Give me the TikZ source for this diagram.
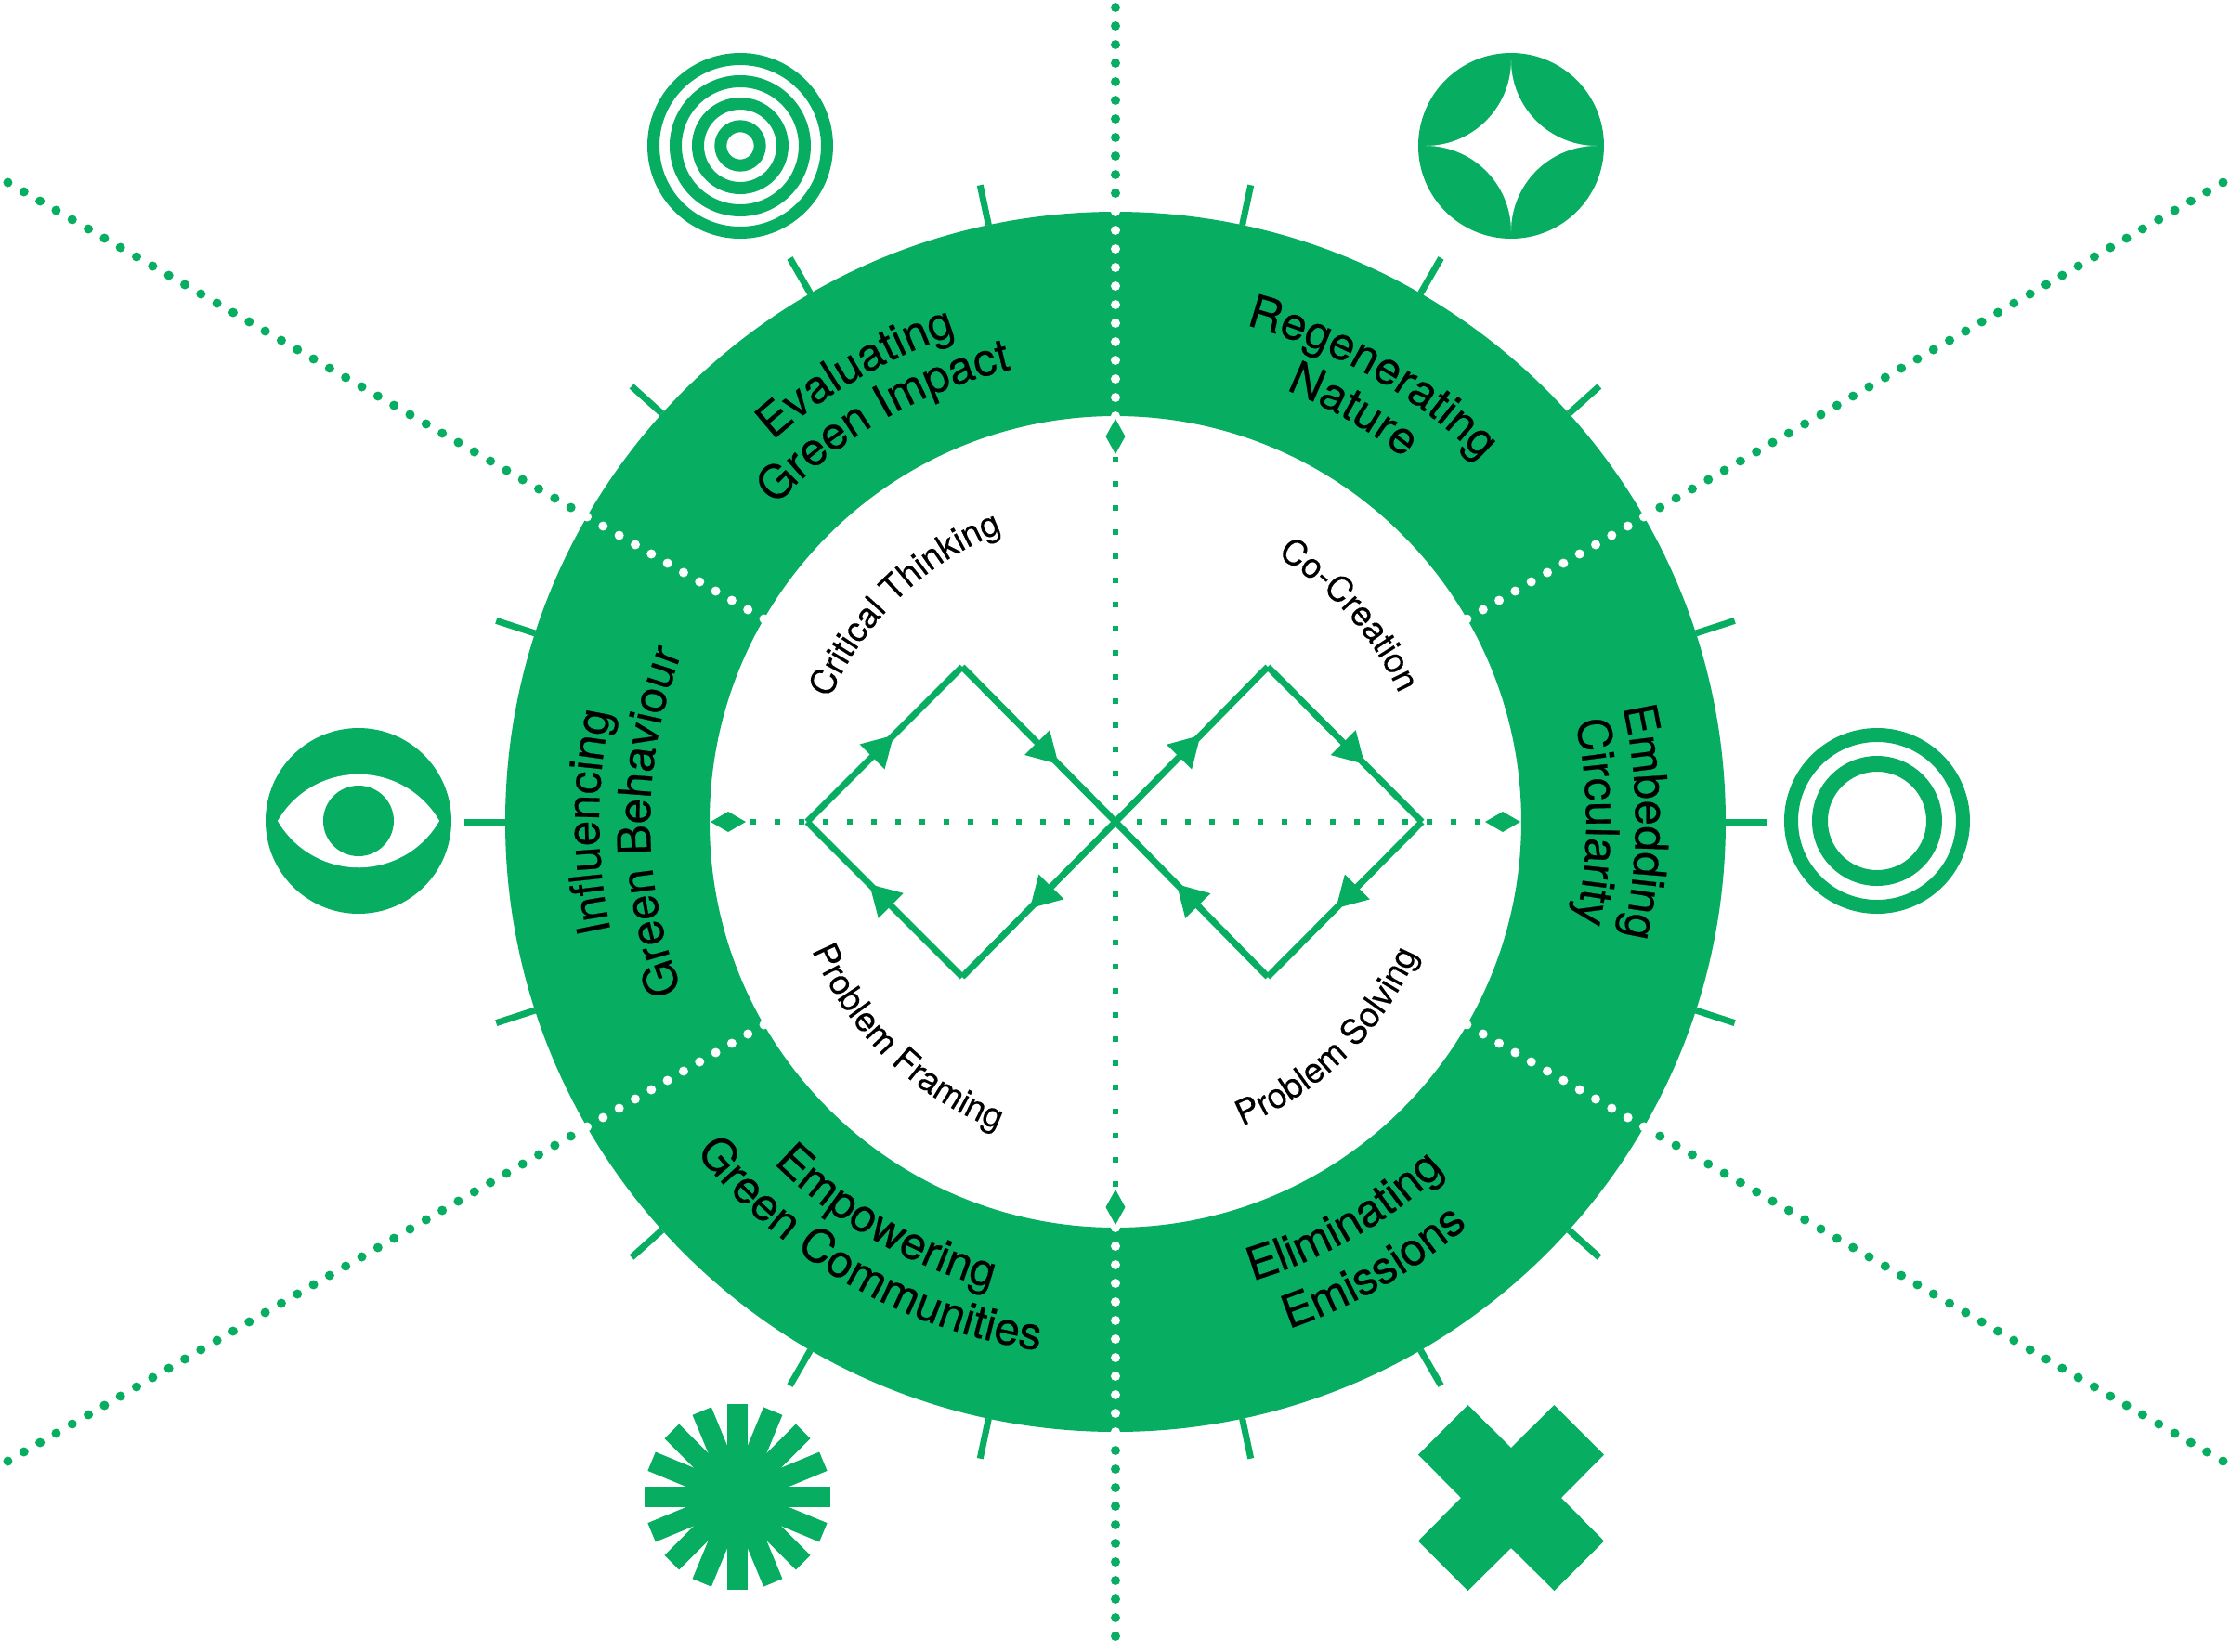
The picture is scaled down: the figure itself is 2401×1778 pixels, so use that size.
\documentclass[tikz,border=0pt]{standalone}
\usepackage{fontspec}
\setmainfont{TeX Gyre Heros}
\newfontfamily\bandface[FakeBold=0.45]{TeX Gyre Heros}
\newfontfamily\loopface[FakeBold=0.25]{TeX Gyre Heros}
\usetikzlibrary{arrows.meta,decorations.text,decorations.markings}
\definecolor{leaf}{RGB}{7,174,98}
\newcommand{\bandfont}{\bandface\fontsize{14}{16}\selectfont}
\newcommand{\loopfont}{\loopface\fontsize{10.6}{13}\selectfont}
\tikzset{
  band/.style={fill=leaf},
  tick/.style={draw=leaf, line width=0.7mm},
  greendots/.style={draw=leaf, line width=1mm, line cap=round, dash pattern=on 0pt off 2mm},
  whitedots/.style={draw=white, line width=1mm, line cap=round, dash pattern=on 0pt off 2mm},
  squaredots/.style={draw=leaf, line width=0.65mm, dash pattern=on 0.65mm off 1.95mm, dash phase=0.325mm},
  loopleg/.style={draw=leaf, line width=0.7mm, postaction={decorate},
    decoration={markings, mark=at position #1 with {\arrow[leaf]{Triangle[length=3.3mm,width=3.6mm]}}}},
  bandtext/.style={decorate, decoration={text along path, text align=center, text={|\bandfont|#1}}},
  looptext/.style={decorate, decoration={text along path, text align=center, text={|\loopfont|#1}}}
}
% text on a circle: radius, middle angle, half span, words
\newcommand{\overarc}[5][bandtext]{\path[#1={#5}] (#3+#4:#2) arc[start angle=#3+#4, end angle=#3-#4, radius=#2];}
\newcommand{\underarc}[5][bandtext]{\path[#1={#5}] (#3-#4:#2) arc[start angle=#3-#4, end angle=#3+#4, radius=#2];}
\begin{document}
\begin{tikzpicture}[x=0.1mm,y=0.1mm]
\useasboundingbox (-1201,-893) rectangle (1200,885);
\begin{scope}
\clip (-1201,-893) rectangle (1200,885);

% ring
\fill[band, even odd rule] (0,0) circle[radius=657] (0,0) circle[radius=437];

\foreach \a in {-78,-60,-42,-18,0,18,42,60,78,102,120,138,162,180,198,222,240,258}
  \draw[tick] (\a:657) -- (\a:701);

% spokes
\foreach \a/\far in {30/1390,90/890,150/1390,210/1390,270/885,330/1390} {
  \coordinate (in\a) at (\a:437);
  \coordinate (rim\a) at (\a:657);
  \coordinate (out\a) at (\a:677);
  \coordinate (end\a) at (\a:\far);
  \draw[whitedots] (in\a) -- (rim\a);
  \draw[greendots] (out\a) -- (end\a);
}

% axes
\coordinate (hub) at (0,0);
\foreach \a/\nm in {0/east,90/north,180/west,270/south} {
  \coordinate (\nm) at (\a:394);
  \draw[squaredots] (hub) -- (\nm);
}
\fill[leaf] (0,396) -- (10.5,415) -- (0,434) -- (-10.5,415) -- cycle;
\fill[leaf] (0,-396) -- (10.5,-415) -- (0,-434) -- (-10.5,-415) -- cycle;
\fill[leaf] (-398,0) -- (-417,11) -- (-436,0) -- (-417,-11) -- cycle;
\fill[leaf] (398,0) -- (417,11) -- (436,0) -- (417,-11) -- cycle;

% the two loops
\coordinate (la) at (-332,0);
\coordinate (lt) at (-165,167);
\coordinate (lb) at (-165,-167);
\coordinate (ra) at (330,0);
\coordinate (rt) at (164,167);
\coordinate (rb) at (164,-167);
\draw[loopleg=0.56] (la) -- (lt);
\draw[loopleg=0.63] (lt) -- (hub);
\draw[loopleg=0.56] (hub) -- (lb);
\draw[loopleg=0.6] (lb) -- (la);
\draw[loopleg=0.56] (hub) -- (rt);
\draw[loopleg=0.63] (rt) -- (ra);
\draw[loopleg=0.56] (ra) -- (rb);
\draw[loopleg=0.6] (rb) -- (hub);

% band words
\overarc{552}{120}{40}{Evaluating}
\overarc{500}{120}{40}{Green Impact}
\overarc{553}{60}{40}{Regenerating}
\overarc{500}{60}{40}{Nature}
\overarc{560}{0}{40}{Embedding}
\overarc{507}{0}{40}{Circularity}
\overarc{556}{180}{40}{Influencing}
\overarc{501}{180}{40}{Green Behaviour}
\underarc{516}{300}{40}{Eliminating}
\underarc{577}{300}{40}{Emissions}
\underarc{520}{240}{40}{Empowering}
\underarc{575}{240}{40}{Green Communities}

% loop words
\overarc[looptext]{335}{134}{60}{Critical Thinking}
\overarc[looptext]{335}{41.5}{60}{Co-Creation}
\underarc[looptext]{355}{226}{60}{Problem Framing}
\underarc[looptext]{355}{-45.5}{60}{Problem Solving}

% target
\begin{scope}[shift={(-404,728)}]
\foreach \r in {93.5,69.5,45.5,21.2}
  \draw[leaf, line width=1.3mm] (0,0) circle[radius=\r];
\end{scope}

% star
\begin{scope}[shift={(426,728)}]
\fill[leaf] (0,0) circle[radius=100];
\fill[white] (0,92) arc[start angle=180, end angle=270, radius=92]
  arc[start angle=90, end angle=180, radius=92]
  arc[start angle=0, end angle=90, radius=92]
  arc[start angle=270, end angle=360, radius=92] -- cycle;
\end{scope}

% eye
\begin{scope}[shift={(-815,1)}]
\fill[leaf] (0,0) circle[radius=100];
\fill[white] (-87,0) arc[start angle=150, end angle=30, radius=100.5]
  arc[start angle=330, end angle=210, radius=100.5] -- cycle;
\fill[leaf] (0,0) circle[radius=38];
\end{scope}

% rings
\begin{scope}[shift={(820,1)}]
\draw[leaf, line width=1.5mm] (0,0) circle[radius=92.5];
\draw[leaf, line width=1.7mm] (0,0) circle[radius=61.5];
\end{scope}

% burst
\begin{scope}[shift={(-407,-727)}]
\foreach \a in {0,22.5,...,157.5}
  \fill[leaf, rotate=\a] (-100,-11) rectangle (100,11);
\end{scope}

% cross
\begin{scope}[shift={(426,-728)}]
\fill[leaf] (-46.5,100) -- (0,54) -- (46.5,100) -- (100,46.5) -- (54,0) -- (100,-46.5)
  -- (46.5,-100) -- (0,-54) -- (-46.5,-100) -- (-100,-46.5) -- (-54,0) -- (-100,46.5) -- cycle;
\end{scope}
\end{scope}
\end{tikzpicture}
\end{document}
